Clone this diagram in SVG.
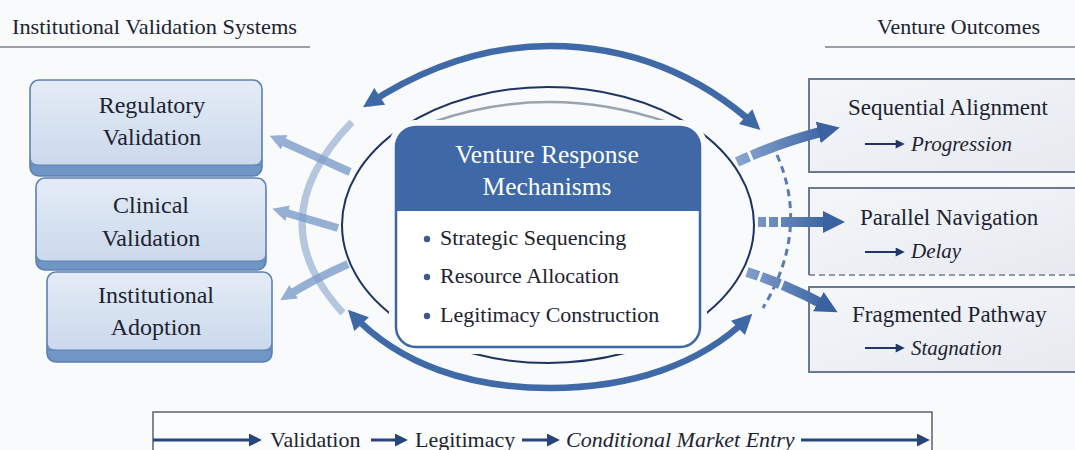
<svg xmlns="http://www.w3.org/2000/svg" width="1075" height="450" viewBox="0 0 1075 450">
  <style>
    text { font-family: "Liberation Serif", "Times New Roman", serif; fill: #1d2330; }
    .title { font-size: 22px; }
    .box-label { font-size: 24px; text-anchor: middle; }
    .head-label { font-size: 25.5px; fill: #ffffff; text-anchor: middle; }
    .bullet { font-size: 22px; }
    .out-label { font-size: 23px; }
    .out-sub { font-size: 21px; font-style: italic; }
    .bar-label { font-size: 22px; }
    .rule { stroke: #9a9ea6; stroke-width: 2; }
    .src-face { stroke: none; }
    .src-band { fill: #7096c6; }
    .src-edge { fill: none; stroke: #5d80b3; stroke-width: 1.6; }
    .out-box { fill: url(#outFill); stroke: #6b7a90; stroke-width: 2; }
    .arc { fill: none; stroke: #4069a8; stroke-width: 6.5; marker-start: url(#headArc); marker-end: url(#headArc); }
    .fan { fill: none; stroke: #7e9ecb; stroke-width: 8; opacity: 0.8; marker-end: url(#headFan); }
    .out-arrow { fill: none; stroke: url(#outGrad); stroke-width: 10; marker-end: url(#headOut); }
    .small-arrow { stroke: #1f3563; stroke-width: 2.2; marker-end: url(#headSmall); }
    .bar-arrow { stroke: #27457a; stroke-width: 3; marker-end: url(#headBar); }
  </style>
  <defs>
    <linearGradient id="srcFill" x1="0" y1="0" x2="0" y2="1">
      <stop offset="0" stop-color="#e4ecf6"/>
      <stop offset="1" stop-color="#cbd9ec"/>
    </linearGradient>
    <linearGradient id="outFill" x1="0" y1="0" x2="1" y2="1">
      <stop offset="0" stop-color="#f4f6f9"/>
      <stop offset="1" stop-color="#e6eaf0"/>
    </linearGradient>
    <linearGradient id="outGrad" gradientUnits="userSpaceOnUse" x1="740" y1="0" x2="830" y2="0">
      <stop offset="0" stop-color="#86a3ce"/>
      <stop offset="1" stop-color="#3a62a0"/>
    </linearGradient>
    <marker id="headArc" viewBox="0 0 10 10" markerUnits="userSpaceOnUse" markerWidth="22" markerHeight="20" refX="7" refY="5" orient="auto-start-reverse">
      <path d="M0,0 L10,5 L0,10 z" fill="#3f68a7"/>
    </marker>
    <marker id="headFan" viewBox="0 0 10 10" markerUnits="userSpaceOnUse" markerWidth="16" markerHeight="18" refX="5" refY="5" orient="auto">
      <path d="M0,0 L10,5 L0,10 z" fill="#7e9ecb"/>
    </marker>
    <marker id="headOut" viewBox="0 0 10 10" markerUnits="userSpaceOnUse" markerWidth="22" markerHeight="24" refX="5" refY="5" orient="auto">
      <path d="M0,0 L10,5 L0,10 z" fill="#3a62a0"/>
    </marker>
    <marker id="headSmall" viewBox="0 0 10 10" markerUnits="userSpaceOnUse" markerWidth="10" markerHeight="9" refX="7" refY="5" orient="auto">
      <path d="M0,0 L10,5 L0,10 z" fill="#1f3563"/>
    </marker>
    <marker id="headBar" viewBox="0 0 10 10" markerUnits="userSpaceOnUse" markerWidth="13" markerHeight="13" refX="7" refY="5" orient="auto">
      <path d="M0,0 L10,5 L0,10 z" fill="#27457a"/>
    </marker>
  </defs>

  <rect x="0" y="0" width="1075" height="450" fill="#f8fafc"/>

  <!-- Column headings -->
  <g id="heading-left">
    <text class="title" x="12" y="34" textLength="285" lengthAdjust="spacingAndGlyphs">Institutional Validation Systems</text>
    <line class="rule" x1="0" y1="47" x2="310" y2="47"/>
  </g>
  <g id="heading-right">
    <text class="title" x="877" y="34" textLength="163" lengthAdjust="spacingAndGlyphs">Venture Outcomes</text>
    <line class="rule" x1="825" y1="47" x2="1075" y2="47"/>
  </g>

  <!-- Validation sources -->
  <g id="node-regulatory">
    <rect class="src-band" x="30" y="80" width="232" height="96" rx="9"/>
    <rect class="src-face" fill="url(#srcFill)" x="30" y="80" width="232" height="85" rx="9"/>
    <line x1="31" y1="165" x2="261" y2="165" stroke="#5d80b3" stroke-width="1.2"/>
    <rect class="src-edge" x="30" y="80" width="232" height="96" rx="9"/>
    <text class="box-label" x="152" y="113">Regulatory</text>
    <text class="box-label" x="152" y="145">Validation</text>
  </g>
  <g id="node-clinical">
    <rect class="src-band" x="36" y="178" width="230" height="92" rx="9"/>
    <rect class="src-face" fill="url(#srcFill)" x="36" y="178" width="230" height="83" rx="9"/>
    <line x1="37" y1="261" x2="265" y2="261" stroke="#5d80b3" stroke-width="1.2"/>
    <rect class="src-edge" x="36" y="178" width="230" height="92" rx="9"/>
    <text class="box-label" x="151" y="213">Clinical</text>
    <text class="box-label" x="151" y="246">Validation</text>
  </g>
  <g id="node-institutional">
    <rect class="src-band" x="47" y="272" width="225" height="90" rx="9"/>
    <rect class="src-face" fill="url(#srcFill)" x="47" y="272" width="225" height="78" rx="9"/>
    <line x1="48" y1="350" x2="271" y2="350" stroke="#5d80b3" stroke-width="1.2"/>
    <rect class="src-edge" x="47" y="272" width="225" height="90" rx="9"/>
    <text class="box-label" x="156" y="303">Institutional</text>
    <text class="box-label" x="156" y="335">Adoption</text>
  </g>

  <!-- Core mechanism -->
  <g id="node-core">
    <ellipse cx="548" cy="225" rx="206" ry="138" fill="none" stroke="#1e3560" stroke-width="2"/>
    <path d="M 433 122 Q 548 82, 667 122" fill="none" stroke="#9aa3b0" stroke-width="2.5"/>
    <rect x="389" y="120" width="318" height="234" rx="26" fill="#f8fafc"/>
    <rect x="396" y="127" width="304" height="220" rx="20" fill="#ffffff" stroke="#3d67a5" stroke-width="2.5"/>
    <path d="M 396 211 L 396 147 Q 396 127, 416 127 L 680 127 Q 700 127, 700 147 L 700 211 Z" fill="#3e68a6"/>
    <text class="head-label" x="547" y="163">Venture Response</text>
    <text class="head-label" x="547" y="195">Mechanisms</text>
    <circle cx="427" cy="239" r="3.2" fill="#3d5a8a"/>
    <text class="bullet" x="440" y="245">Strategic Sequencing</text>
    <circle cx="427" cy="277" r="3.2" fill="#3d5a8a"/>
    <text class="bullet" x="440" y="283">Resource Allocation</text>
    <circle cx="427" cy="316" r="3.2" fill="#3d5a8a"/>
    <text class="bullet" x="440" y="322">Legitimacy Construction</text>
  </g>

  <!-- Outcomes -->
  <g id="node-sequential">
    <rect class="out-box" x="809" y="79" width="280" height="93"/>
    <text class="out-label" x="848" y="115">Sequential Alignment</text>
    <line class="small-arrow" x1="865" y1="144" x2="902" y2="144"/>
    <text class="out-sub" x="911" y="151">Progression</text>
  </g>
  <g id="node-parallel">
    <path d="M 1089 188 L 809 188 L 809 275" fill="#e9edf2" stroke="#6b7a90" stroke-width="2"/>
    <rect x="810" y="189" width="279" height="85" fill="url(#outFill)"/>
    <line x1="809" y1="275" x2="1089" y2="275" stroke="#6b7a90" stroke-width="1.6" stroke-dasharray="6 4"/>
    <text class="out-label" x="860" y="225">Parallel Navigation</text>
    <line class="small-arrow" x1="865" y1="252" x2="902" y2="252"/>
    <text class="out-sub" x="911" y="258">Delay</text>
  </g>
  <g id="node-fragmented">
    <rect class="out-box" x="809" y="287" width="280" height="85"/>
    <text class="out-label" x="852" y="322">Fragmented Pathway</text>
    <line class="small-arrow" x1="865" y1="348" x2="902" y2="348"/>
    <text class="out-sub" x="911" y="355">Stagnation</text>
  </g>

  <!-- Summary path -->
  <g id="node-summary">
    <rect x="153" y="412" width="779" height="52" fill="#fbfcfd" stroke="#5a6070" stroke-width="1.5"/>
    <line class="bar-arrow" x1="153" y1="440" x2="258" y2="440"/>
    <text class="bar-label" x="270" y="447">Validation</text>
    <line class="bar-arrow" x1="371" y1="440" x2="404" y2="440"/>
    <text class="bar-label" x="415" y="447">Legitimacy</text>
    <line class="bar-arrow" x1="522" y1="440" x2="556" y2="440"/>
    <text class="bar-label" x="566" y="447" font-style="italic">Conditional Market Entry</text>
    <line class="bar-arrow" x1="801" y1="440" x2="926" y2="440"/>
  </g>

  <!-- Connectors (drawn last so the heads sit over the box edges) -->
  <g id="connectors">
    <!-- feedback loops around the core -->
    <path class="arc" d="M 368 104 C 420 70, 480 46, 550 46 C 630 46, 700 75, 756 126"/>
    <path class="arc" d="M 352 314 C 400 365, 470 388, 550 388 C 630 388, 700 365, 748 318"/>
    <!-- pale boundary on the validation side -->
    <path d="M 352 122 Q 257 220, 343 313" fill="none" stroke="#9db5d6" stroke-width="7" opacity="0.75"/>
    <!-- pressure back onto validation sources -->
    <path class="fan" d="M 350 172 L 277 139"/>
    <path class="fan" d="M 338 228 L 280 211"/>
    <path class="fan" d="M 348 264 Q 312 280, 287 296"/>
    <!-- dashed boundary on the outcome side -->
    <path d="M 777 155 Q 810 230, 763 308" fill="none" stroke="#5a7bb0" stroke-width="3" stroke-dasharray="7 5"/>
    <!-- routes to outcomes -->
    <path class="out-arrow" d="M 737 162 Q 785 140, 829 130" stroke-dasharray="13 3 400"/>
    <path class="out-arrow" d="M 758 222 L 834 222" stroke-dasharray="8 3 9 3 400"/>
    <path class="out-arrow" d="M 747 272 Q 790 286, 828 307" stroke-dasharray="12 3 20 3 400"/>
  </g>
</svg>
